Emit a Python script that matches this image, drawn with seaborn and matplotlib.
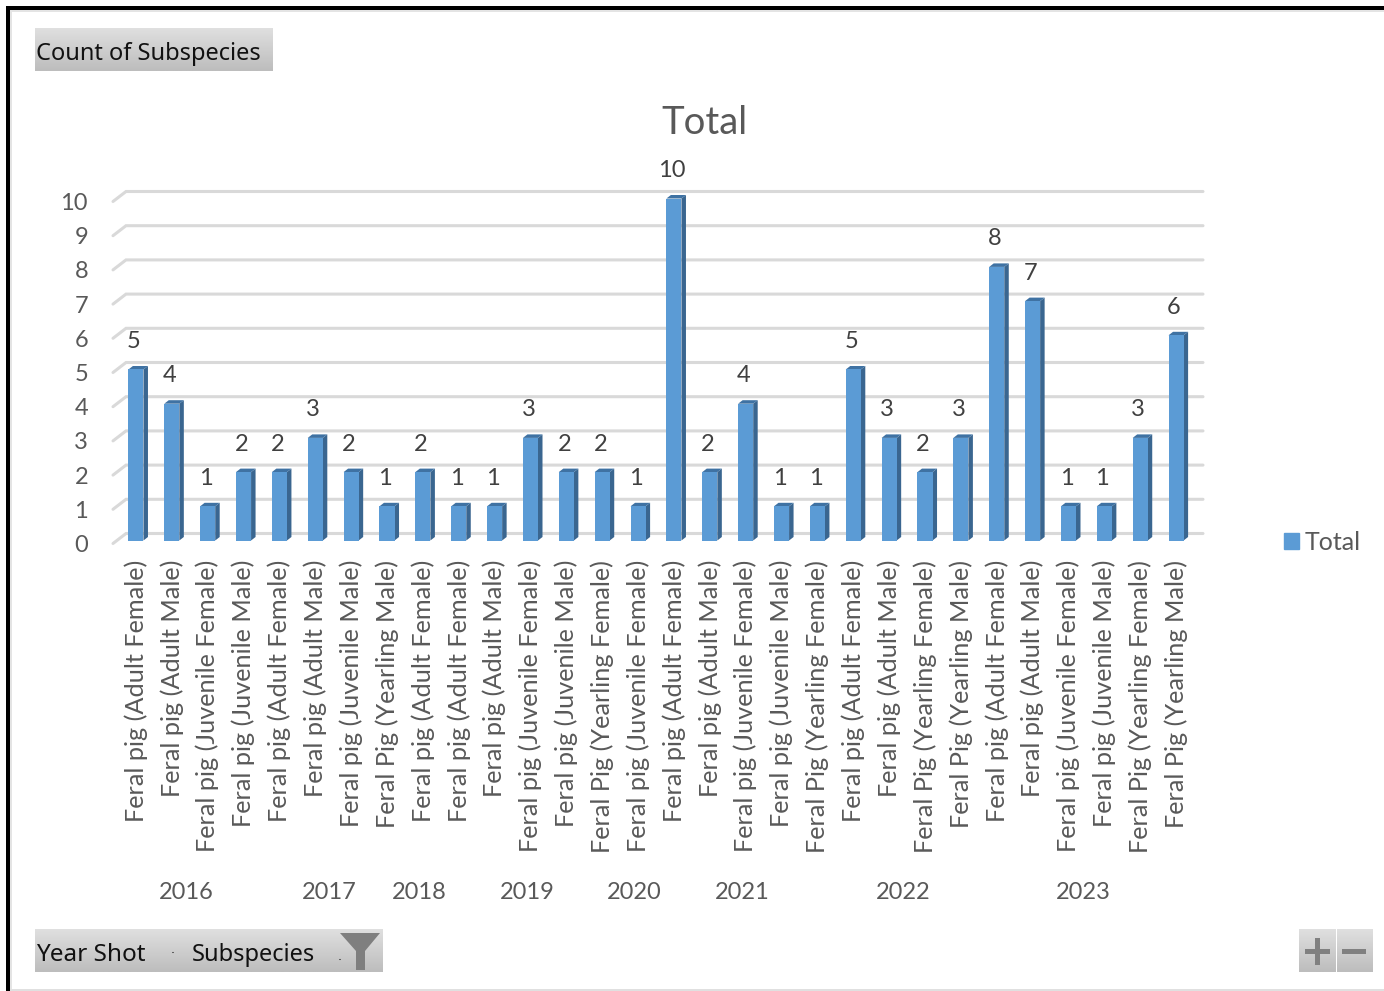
import numpy as np
import pandas as pd
import matplotlib
matplotlib.use('Agg')
import matplotlib.pyplot as plt
from matplotlib.patches import Polygon, Rectangle
import seaborn as sns

subspecies = [
    'Feral pig (Adult Female)', 'Feral pig (Adult Male)', 'Feral pig (Juvenile Female)', 'Feral pig (Juvenile Male)',
    'Feral pig (Adult Female)', 'Feral pig (Adult Male)', 'Feral pig (Juvenile Male)', 'Feral Pig (Yearling Male)',
    'Feral pig (Adult Female)',
    'Feral pig (Adult Female)', 'Feral pig (Adult Male)', 'Feral pig (Juvenile Female)', 'Feral pig (Juvenile Male)',
    'Feral Pig (Yearling Female)',
    'Feral pig (Juvenile Female)',
    'Feral pig (Adult Female)', 'Feral pig (Adult Male)', 'Feral pig (Juvenile Female)', 'Feral pig (Juvenile Male)',
    'Feral Pig (Yearling Female)',
    'Feral pig (Adult Female)', 'Feral pig (Adult Male)', 'Feral Pig (Yearling Female)', 'Feral Pig (Yearling Male)',
    'Feral pig (Adult Female)', 'Feral pig (Adult Male)', 'Feral pig (Juvenile Female)', 'Feral pig (Juvenile Male)',
    'Feral Pig (Yearling Female)', 'Feral Pig (Yearling Male)',
]
counts = [5, 4, 1, 2, 2, 3, 2, 1, 2, 1, 1, 3, 2, 2, 1, 10, 2, 4, 1, 1, 5, 3, 2, 3, 8, 7, 1, 1, 3, 6]
year_shot = [2016] * 4 + [2017] * 4 + [2018] + [2019] * 5 + [2020] + [2021] * 5 + [2022] * 4 + [2023] * 6
y_ticks = list(range(0, 11))

FRONT = '#5B9BD5'
SIDE = '#3A6690'
TOP = '#3F72A3'
GRID = '#D9D9D9'
TEXT = '#595959'
W, H = 1384, 991

sns.set_style('white')
plt.rcParams['font.family'] = ['Lato', 'DejaVu Sans']

df = pd.DataFrame({'pos': range(len(counts)), 'count': counts, 'year': year_shot})

fig = plt.figure(figsize=(W / 100, H / 100), dpi=100)

# plot area, in pixels of the reference: bar bases at y=540.5, value 10 at y=198.5
left, right, bottom, top = 118, 1194, 540.5, 198.5
ax = fig.add_axes([left / W, 1 - bottom / H, (right - left) / W, (bottom - top) / H])
px_x = (right - left) / len(counts)
px_y = (bottom - top) / 10

sns.barplot(data=df, x='pos', y='count', color=FRONT, saturation=1, width=0.42, linewidth=0,
            label='Total', legend=False, ax=ax, zorder=3)
ax.set_xlim(-0.5, len(counts) - 0.5)
ax.set_ylim(0, 10)
ax.patch.set_alpha(0)
sns.despine(ax=ax, left=True, bottom=True)

# back wall gridlines and the short diagonals on the left wall
back_dy = 7 / px_y
front_dy = -3 / px_y
label_dy = -2 / px_y
wall_x0 = -0.5 + (113 - left) / px_x
wall_x1 = -0.5 + (126 - left) / px_x
grid_x1 = -0.5 + (1203 - left) / px_x
for v in y_ticks:
    ax.plot([wall_x0, wall_x1, grid_x1], [v + front_dy, v + back_dy, v + back_dy],
            color=GRID, lw=2.2, clip_on=False, zorder=1, solid_joinstyle='miter')

# fake 3D: side and top faces for each bar
dx = 4.5 / px_x
dy = 3.5 / px_y
for bar in ax.patches:
    x0 = bar.get_x()
    x1 = x0 + bar.get_width()
    h = bar.get_height()
    ax.add_patch(Polygon([(x1, 0), (x1 + dx, dy), (x1 + dx, h + dy), (x1, h)], color=SIDE, lw=0, zorder=2, clip_on=False))
    ax.add_patch(Polygon([(x0, h), (x0 + dx, h + dy), (x1 + dx, h + dy), (x1, h)], color=TOP, lw=0, zorder=2, clip_on=False))
    ax.annotate(f'{int(h)}', (x0 + bar.get_width() / 2, h), xytext=(-2, 28), textcoords='offset pixels',
                ha='center', va='center', fontsize=17, color='#404040', annotation_clip=False)

ax.set_xlabel('')
ax.set_ylabel('')
ax.set_xticks(df['pos'])
ax.set_xticklabels(subspecies, rotation=90, fontsize=18.2, color=TEXT, ha='center', va='top')
ax.set_yticks([])
ax.tick_params(axis='x', length=0, pad=14)
for v in y_ticks:
    ax.text(-0.5 + (88 - left) / px_x, v + front_dy + label_dy, str(v), ha='right', va='center', fontsize=17, color=TEXT)

# year labels sit under the middle of each group
centres = df.groupby('year')['pos'].mean()
for year, c in centres.items():
    ax.text(c - 0.1, (bottom - 892) / px_y, str(year), ha='center', va='center', fontsize=17, color=TEXT)

ax.legend(handles=[Rectangle((0, 0), 1, 1, color=FRONT)], labels=['Total'], frameon=False, fontsize=18,
          labelcolor=TEXT, loc='center left', bbox_to_anchor=(1276 / W, 1 - 542 / H),
          bbox_transform=fig.transFigure, handlelength=0.6, handleheight=0.6, handletextpad=0.24,
          borderpad=0.3, borderaxespad=0)

fig.text(704 / W, 1 - 123 / H, 'Total', ha='center', va='center', fontsize=27.5, color=TEXT)

# window frame and pivot chart buttons, drawn in pixel coordinates
chrome = fig.add_axes([0, 0, 1, 1], zorder=5)
chrome.axis('off')
chrome.patch.set_alpha(0)
gradient = np.linspace(0.875, 0.74, 64).reshape(-1, 1)


def button(x0, x1, y0=930, y1=972.5):
    chrome.imshow(gradient, extent=(x0, x1, y1, y0), cmap='gray', vmin=0, vmax=1, aspect='auto')


button(35, 273, 29, 71.5)
button(35, 190.5)
button(191, 382.5)
button(1299, 1336)
button(1336.5, 1372.5)

chrome.add_patch(Rectangle((6, 6), W - 6, 4, color='black', lw=0))
chrome.add_patch(Rectangle((6, 6), 4, H - 6, color='black', lw=0))
chrome.add_patch(Rectangle((10, 10), W - 10, 2, color='#E4E4E4', lw=0))
chrome.add_patch(Rectangle((10, 10), 2, H - 10, color='#E4E4E4', lw=0))
chrome.add_patch(Rectangle((10, 989), W - 10, 2, color='#E0E0E0', lw=0))

BTN = ['Noto Sans', 'DejaVu Sans']
chrome.text(36, 54, 'Count of Subspecies', family=BTN, fontsize=17, color='#111111', ha='left', va='center')
chrome.text(36, 955, 'Year Shot', family=BTN, fontsize=17.5, color='#111111', ha='left', va='center')
chrome.text(192, 955, 'Subspecies', family=BTN, fontsize=17, color='#111111', ha='left', va='center')

chrome.add_patch(Polygon([(340, 933), (380, 933), (365, 951), (365, 970), (356, 970), (356, 951)], color='#7F7F7F', lw=0))
chrome.plot([172, 173], [952, 952], color='#555555', lw=0.8)
chrome.plot([339, 340], [959, 959], color='#555555', lw=0.8)

chrome.add_patch(Rectangle((1305, 949), 25, 5, color='#808080', lw=0))
chrome.add_patch(Rectangle((1315, 938), 5, 27, color='#808080', lw=0))
chrome.add_patch(Rectangle((1342, 949), 24, 5, color='#808080', lw=0))

chrome.set_xlim(0, W)
chrome.set_ylim(H, 0)

fig.savefig('out.png', dpi=100)
